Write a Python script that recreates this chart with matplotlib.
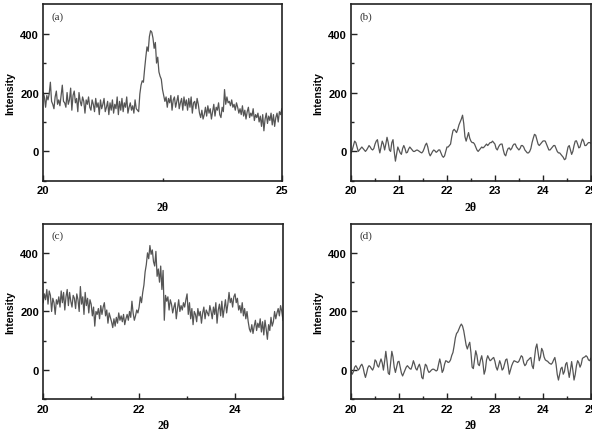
import numpy as np
import matplotlib.pyplot as plt

# intensity traces, 2theta from 20 to 25 in steps of 0.025
int_a = [200, 185, 150, 190, 175, 195, 235, 170, 160, 145, 185, 205, 160, 175, 155, 190, 225, 170, 165, 150,
         200, 160, 175, 215, 140, 190, 205, 165, 180, 135, 200, 170, 155, 185, 170, 130, 175, 160, 185, 150,
         140, 175, 160, 135, 180, 150, 165, 125, 175, 145, 160, 180, 135, 150, 170, 125, 165, 140, 175, 130,
         160, 145, 185, 125, 170, 140, 180, 135, 165, 150, 185, 130, 150, 165, 140, 155, 130, 175, 145, 140,
         135, 195, 225, 240, 235, 280, 320, 355, 340, 390, 410, 405, 385, 350, 370, 300, 320, 270, 255, 245,
         210, 190, 170, 185, 150, 180, 165, 190, 140, 175, 185, 150, 170, 190, 145, 165, 180, 140, 185, 155,
         175, 140, 180, 150, 185, 130, 165, 170, 145, 180, 160, 130, 115, 140, 110, 125, 150, 120, 155, 130,
         145, 110, 135, 160, 120, 150, 140, 165, 125, 115, 150, 135, 210, 160, 185, 165, 170, 155, 175, 150,
         160, 140, 165, 150, 130, 145, 125, 155, 120, 140, 110, 135, 150, 115, 130, 120, 145, 105, 125, 115,
         130, 100, 120, 85, 125, 70, 110, 130, 95, 120, 105, 130, 90, 125, 85, 115, 130, 100, 135, 125,
         145]

int_b = [-5, 5, 20, 35, 30, 15, 0, 5, 10, 15, 10, 5, 0, 5, 12, 20, 15, 8, 5, 10,
         25, 35, 40, 15, -5, 15, 35, 25, 5, 25, 48, 30, 5, 0, 30, 40, 0, -33, -10, 15,
         5, -5, -10, 10, 20, 10, -5, -3, 8, 15, 10, 5, 0, 0, 3, 5, 3, 0, -3, -5,
         0, 10, 22, 28, 15, -5, -15, -8, 0, 5, 2, -3, 0, 5, 5, -5, -15, -20, -15, 0,
         15, 15, 20, 25, 50, 70, 75, 70, 64, 75, 90, 100, 110, 123, 95, 50, 35, 50, 64, 45,
         35, 30, 30, 25, 15, 5, 0, 5, 10, 15, 12, 15, 20, 25, 20, 25, 30, 30, 35, 30,
         25, 10, 5, 15, 22, 25, 25, 5, -10, -15, 0, 10, 12, 5, 10, 20, 25, 25, 15, 10,
         5, 10, 20, 20, 15, 5, 0, -5, -5, 0, 10, 30, 45, 58, 55, 40, 25, 20, 25, 30,
         35, 36, 35, 25, 15, 5, 5, 10, 15, 20, 20, 10, 0, -5, -5, -10, -15, -20, -28, -25,
         -5, 15, 20, 5, -10, 0, 20, 35, 36, 25, 12, 15, 30, 42, 35, 20, 20, 25, 30, 30,
         28]

int_c = [230, 260, 240, 275, 225, 270, 255, 200, 245, 230, 190, 240, 225, 250, 215, 270, 230, 265, 205, 250,
         275, 220, 265, 235, 215, 255, 245, 210, 260, 240, 200, 285, 225, 250, 190, 265, 220, 245, 195, 240,
         225, 185, 215, 150, 200, 190, 210, 175, 220, 190, 215, 230, 185, 205, 160, 195, 180, 165, 145, 175,
         150, 180, 160, 195, 170, 185, 165, 190, 155, 175, 190, 170, 200, 180, 235, 195, 170, 185, 205, 195,
         215, 250, 230, 265, 290, 335, 360, 400, 380, 425, 395, 410, 370, 355, 405, 320, 345, 300, 355, 275,
         340, 170, 255, 235, 250, 205, 240, 225, 195, 215, 230, 175, 210, 240, 200, 220, 205, 230, 215, 240,
         260, 190, 230, 175, 210, 155, 200, 190, 165, 210, 185, 200, 160, 195, 215, 175, 205, 195, 185, 220,
         200, 175, 215, 190, 230, 160, 205, 225, 185, 235, 180, 210, 240, 195, 225, 265, 230, 245, 215, 250,
         260, 230, 245, 205, 220, 195, 230, 185, 210, 175, 200, 165, 140, 130, 155, 125, 150, 170, 135, 160,
         145, 175, 130, 165, 120, 170, 140, 105, 155, 135, 180, 150, 165, 200, 175, 195, 210, 185, 220, 200,
         170]

int_d = [-5, -14, -5, 10, 15, 8, 0, 5, 15, 20, 10, -10, -25, -10, 8, 15, 12, 5, 0, 10,
         35, 30, 15, 10, 25, 38, 25, 0, 30, 64, 30, -10, -15, 25, 64, 45, 10, -8, 10, 28,
         30, 10, -10, -20, -10, 0, 10, 15, 10, 5, 3, 15, 32, 20, 5, 0, 12, 20, 5, -25,
         -30, 0, 20, 15, 0, -8, -5, 0, 3, 3, 0, -3, 0, 20, 38, 20, -8, 0, 20, 32,
         30, 26, 28, 35, 50, 60, 83, 110, 125, 130, 140, 150, 157, 150, 134, 110, 85, 72, 85, 95,
         60, 10, 5, 35, 66, 50, 20, 15, 35, 49, 25, -14, 0, 35, 49, 40, 32, 35, 40, 43,
         30, 10, 0, 15, 32, 20, 0, 5, 20, 35, 38, 15, -14, 0, 15, 25, 32, 30, 28, 26,
         30, 40, 49, 45, 25, 15, 20, 32, 35, 40, 43, 15, 5, 40, 75, 89, 60, 32, 45, 74,
         65, 45, 35, 32, 30, 25, 22, 20, 25, 35, 43, 20, -15, -34, -15, 5, 10, -14, -5, 20,
         26, 0, -25, 0, 29, 0, -34, -15, 15, 32, 25, 10, 20, 40, 43, 45, 49, 45, 35, 32,
         40]

labels = ['(a)', '(b)', '(c)', '(d)']
series = [int_a, int_b, int_c, int_d]

fig = plt.figure(figsize=(5.92, 4.31), dpi=100)
boxes = [[0.073, 0.578, 0.403, 0.410],
         [0.593, 0.578, 0.405, 0.410],
         [0.073, 0.071, 0.405, 0.408],
         [0.593, 0.071, 0.405, 0.408]]

tick_font = {'family': 'Liberation Sans', 'weight': 'bold', 'size': 8}

for k in range(4):
    ax = fig.add_axes(boxes[k])
    y = np.array(series[k])
    x = np.linspace(20, 25, len(y))
    ax.plot(x, y, color='#555555', lw=0.9)
    ax.set_xlim(20, 25)
    ax.set_ylim(-100, 500)

    if k == 0:
        ax.set_xticks([20, 25])
        ax.set_xticks([22.5], minor=True)
    elif k == 2:
        ax.set_xticks([20, 22, 24])
        ax.set_xticks([21, 23, 25], minor=True)
    else:
        ax.set_xticks([20, 21, 22, 23, 24, 25])
        ax.set_xticks(np.arange(20.5, 25, 1.0), minor=True)
    ax.set_yticks([0, 200, 400])
    ax.set_yticks([-100, 100, 300], minor=True)

    ax.tick_params(which='both', direction='in', top=False, right=False, width=1.0, color='#222222')
    ax.tick_params(which='major', length=4, pad=3)
    ax.tick_params(which='minor', length=2)
    for lab in ax.get_xticklabels() + ax.get_yticklabels():
        lab.set_fontproperties(tick_font)

    for sp in ax.spines.values():
        sp.set_linewidth(1.2)
        sp.set_color('#222222')

    ax.set_ylabel('Intensity', fontsize=7.5, fontweight='bold', family='Liberation Sans')
    ax.yaxis.set_label_coords(-0.118, 0.5)
    ax.set_xlabel('2θ', fontsize=8.5, fontweight='bold', family='Liberation Serif', labelpad=4)
    ax.text(0.035, 0.92, labels[k], transform=ax.transAxes, fontsize=8,
            family='Liberation Serif', color='#333333')

fig.savefig('out.png', dpi=100)
